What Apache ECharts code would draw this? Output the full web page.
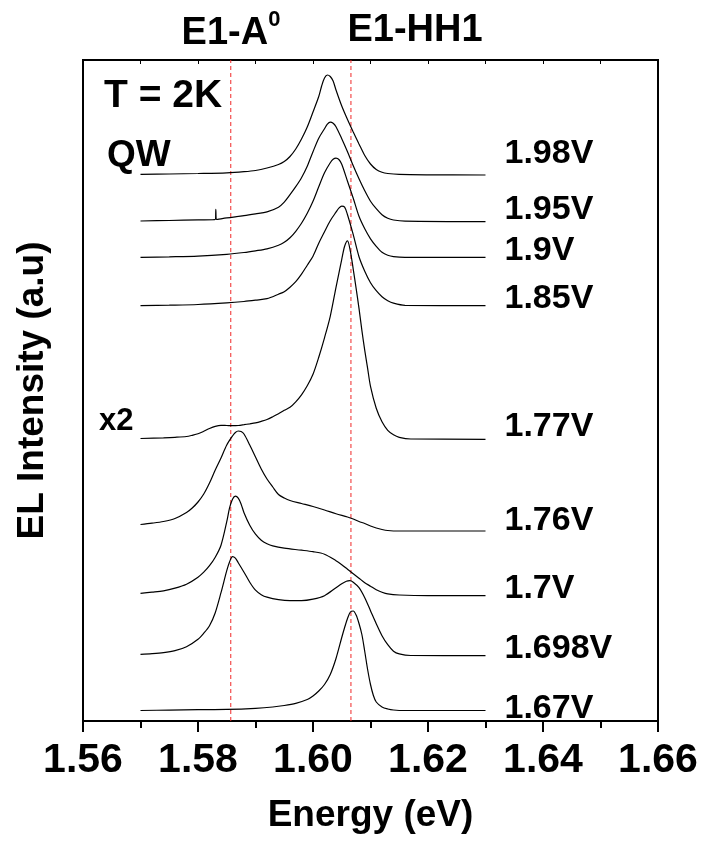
<!DOCTYPE html>
<html>
<head>
<meta charset="utf-8">
<script src="https://cdn.jsdelivr.net/npm/echarts@6/dist/echarts.min.js"></script>
<style>
html,body{margin:0;padding:0;background:#fff;}
#chart{width:701px;height:844px;}
</style>
</head>
<body>
<div id="chart"></div>
<script>
// EL spectra at 2 K for several bias voltages (energy in eV, intensity in a.u.)
const voltages = ['1.98V', '1.95V', '1.9V', '1.85V', '1.77V', '1.76V', '1.7V', '1.698V', '1.67V'];

const e198 = [1.570,1.575,1.580,1.585,1.588,1.590,1.592,1.594,1.595,1.596,1.597,1.598,1.599,1.600,1.601,1.6015,1.602,1.6025,1.603,1.6035,1.604,1.605,1.606,1.607,1.608,1.609,1.610,1.611,1.612,1.613,1.615,1.620,1.630];
const i198 = [0.07,0.10,0.15,0.22,0.33,0.45,0.70,1.05,1.35,1.85,2.60,3.60,4.80,6.30,7.85,8.90,9.70,10.00,9.85,9.40,8.50,6.90,5.55,4.30,3.10,1.95,1.10,0.55,0.27,0.15,0.06,0.02,0.00];

const e195 = [1.570,1.575,1.580,1.5830,1.5831,1.5832,1.585,1.588,1.590,1.592,1.594,1.595,1.596,1.597,1.598,1.599,1.600,1.601,1.602,1.6025,1.603,1.6035,1.604,1.605,1.606,1.607,1.608,1.609,1.610,1.611,1.612,1.613,1.614,1.616,1.630];
const i195 = [0.07,0.12,0.18,0.22,1.24,0.22,0.38,0.60,0.78,0.98,1.45,1.95,2.70,3.50,4.40,5.55,7.00,8.35,9.30,9.75,9.95,9.85,9.50,8.30,7.00,5.60,4.30,3.10,2.05,1.30,0.70,0.35,0.17,0.05,0.00];

const e190 = [1.570,1.575,1.580,1.585,1.588,1.590,1.592,1.594,1.595,1.596,1.597,1.598,1.599,1.600,1.601,1.602,1.603,1.6035,1.604,1.6045,1.605,1.606,1.607,1.608,1.609,1.610,1.611,1.612,1.613,1.614,1.616,1.630];
const i190 = [0.00,0.05,0.12,0.30,0.48,0.65,0.85,1.20,1.50,1.95,2.60,3.40,4.40,5.60,7.05,8.45,9.45,9.80,9.92,9.78,9.30,7.60,5.90,4.10,2.85,1.85,1.10,0.50,0.20,0.07,0.00,0.00];

const e185 = [1.570,1.575,1.580,1.585,1.588,1.590,1.592,1.594,1.595,1.596,1.597,1.598,1.599,1.600,1.601,1.602,1.603,1.604,1.6045,1.605,1.6055,1.606,1.607,1.608,1.609,1.610,1.611,1.612,1.613,1.614,1.616,1.630];
const i185 = [0.00,0.05,0.12,0.28,0.42,0.55,0.70,1.15,1.40,1.85,2.40,3.15,4.05,4.95,6.25,7.40,8.50,9.35,9.75,9.95,9.85,9.10,7.10,4.90,3.45,2.30,1.50,0.90,0.50,0.25,0.03,0.00];

// 1.77V is shown multiplied by 2
const e177 = [1.570,1.574,1.576,1.578,1.579,1.580,1.581,1.582,1.583,1.584,1.585,1.586,1.587,1.588,1.589,1.590,1.591,1.592,1.593,1.594,1.595,1.596,1.597,1.598,1.599,1.600,1.601,1.602,1.603,1.604,1.6045,1.605,1.6055,1.606,1.6065,1.607,1.6075,1.608,1.6085,1.609,1.6095,1.610,1.611,1.612,1.613,1.614,1.615,1.617,1.630];
const i177 = [0.08,0.15,0.20,0.28,0.40,0.55,0.80,1.08,1.30,1.40,1.38,1.36,1.38,1.46,1.55,1.65,1.80,1.98,2.25,2.55,2.90,3.20,3.75,4.45,5.35,6.50,8.20,10.15,12.30,15.20,16.60,18.00,19.30,19.85,18.80,17.00,15.10,13.10,10.90,8.90,7.10,5.30,3.10,1.75,0.90,0.45,0.20,0.03,0.00];

const e176 = [1.570,1.572,1.574,1.576,1.578,1.579,1.580,1.581,1.582,1.583,1.584,1.585,1.586,1.5865,1.587,1.5875,1.588,1.589,1.590,1.591,1.592,1.593,1.594,1.595,1.596,1.598,1.600,1.602,1.604,1.606,1.607,1.608,1.609,1.610,1.611,1.612,1.613,1.615,1.630];
const i176 = [0.65,0.78,0.95,1.25,1.85,2.30,2.90,3.70,4.80,6.10,7.30,8.60,9.50,9.85,10.00,9.95,9.70,8.60,7.40,6.20,5.20,4.40,3.65,3.30,3.05,2.75,2.45,2.10,1.72,1.40,1.20,0.95,0.75,0.50,0.30,0.15,0.05,0.00,0.00];

const e170 = [1.570,1.572,1.574,1.576,1.578,1.580,1.581,1.582,1.583,1.584,1.585,1.5855,1.586,1.5865,1.587,1.5875,1.588,1.589,1.590,1.591,1.592,1.593,1.595,1.598,1.600,1.602,1.604,1.605,1.606,1.607,1.608,1.609,1.610,1.611,1.612,1.613,1.615,1.620,1.630];
const i170 = [0.24,0.35,0.48,0.75,1.15,1.85,2.35,3.00,3.85,5.05,7.40,8.80,9.65,9.95,9.75,9.15,8.30,7.05,6.15,5.55,5.20,4.98,4.75,4.55,4.40,4.15,3.50,3.10,2.65,2.20,1.75,1.30,0.95,0.60,0.35,0.18,0.07,0.00,0.00];

const e1698 = [1.570,1.572,1.574,1.576,1.578,1.580,1.581,1.582,1.583,1.584,1.585,1.5855,1.586,1.5865,1.587,1.588,1.589,1.590,1.591,1.592,1.594,1.596,1.598,1.600,1.602,1.604,1.605,1.6058,1.6064,1.607,1.608,1.609,1.610,1.611,1.612,1.613,1.614,1.615,1.617,1.630];
const i1698 = [0.14,0.20,0.30,0.50,0.90,1.65,2.25,3.00,4.30,6.30,8.50,9.40,9.90,9.75,9.30,8.35,7.35,6.55,6.10,5.85,5.60,5.50,5.50,5.65,6.00,6.80,7.20,7.45,7.50,7.35,6.80,5.80,4.50,3.20,2.00,1.10,0.45,0.18,0.02,0.00];

const e167 = [1.570,1.575,1.580,1.585,1.590,1.593,1.595,1.597,1.599,1.600,1.601,1.602,1.603,1.604,1.605,1.6055,1.606,1.6065,1.607,1.6075,1.608,1.6085,1.609,1.6095,1.610,1.6105,1.611,1.612,1.613,1.614,1.616,1.630];
const i167 = [0.00,0.04,0.08,0.11,0.22,0.35,0.50,0.72,1.10,1.45,1.95,2.60,3.60,5.20,7.30,8.30,9.20,9.85,9.95,9.55,8.70,7.60,5.90,4.10,2.60,1.50,0.85,0.35,0.15,0.05,0.00,0.00];

// vertical offset of each spectrum
const offsets = [54.60, 49.93, 46.37, 41.53, 28.17, 19.00, 12.53, 6.53, 1.05];

// transition energies: E1-A0 and E1-HH1
const refLines = [1.5857, 1.6066];

const xTicks = [1.56, 1.58, 1.60, 1.62, 1.64, 1.66];
const yRange = [0, 66.1];

const energies = [e198, e195, e190, e185, e177, e176, e170, e1698, e167];
const intensities = [i198, i195, i190, i185, i177, i176, i170, i1698, i167];

// vertical nudge of each voltage tag relative to its baseline (px)
const labelShift = [-21, -12, -7, -7, -13, -10, -7, -7, -2];

const FONT = 'Liberation Sans, Arial, Helvetica, sans-serif';

const spectraSeries = voltages.map((v, k) => ({
  name: v,
  type: 'line',
  data: energies[k].map((e, j) => [e, offsets[k] + intensities[k][j]]),
  showSymbol: false,
  symbol: 'none',
  smooth: 0.3,
  lineStyle: { color: '#000', width: 1.2 },
  itemStyle: { color: '#000' },
  endLabel: {
    show: true,
    formatter: '{a}',
    distance: 0,
    offset: [19, labelShift[k]],
    color: '#000',
    fontFamily: FONT,
    fontWeight: 'bold',
    fontSize: 34
  },
  z: 3
}));

// dashed vertical guides at the transition energies
const guideSeries = refLines.map((x, k) => ({
  name: 'guide' + k,
  type: 'line',
  data: [[x, yRange[0]], [x, yRange[1]]],
  showSymbol: false,
  symbol: 'none',
  silent: true,
  lineStyle: { color: '#f02828', type: [4, 3], width: 1 },
  itemStyle: { color: '#f02828' },
  z: 2
}));

const chart = echarts.init(document.getElementById('chart'), null, { renderer: 'canvas' });
chart.setOption({
  animation: false,
  backgroundColor: '#fff',
  grid: { left: 83, right: 43, top: 60, bottom: 123, show: true, borderColor: '#000', borderWidth: 2 },
  xAxis: [{
    type: 'value',
    min: xTicks[0],
    max: xTicks[xTicks.length - 1],
    interval: 0.02,
    position: 'bottom',
    axisLine: { show: true, onZero: false, lineStyle: { color: '#000', width: 2 } },
    axisTick: { show: true, inside: false, length: 11, lineStyle: { color: '#000', width: 2 } },
    minorTick: { show: true, splitNumber: 2, length: 7, lineStyle: { color: '#000', width: 2 } },
    splitLine: { show: false },
    axisLabel: {
      show: true, margin: 19, color: '#000', fontFamily: FONT, fontWeight: 'bold', fontSize: 41,
      formatter: v => v.toFixed(2)
    },
    name: 'Energy (eV)',
    nameLocation: 'middle',
    nameGap: 76,
    nameTextStyle: { color: '#000', fontFamily: FONT, fontWeight: 'bold', fontSize: 37 }
  }, {
    type: 'value',
    min: xTicks[0],
    max: xTicks[xTicks.length - 1],
    interval: 0.01,
    position: 'top',
    axisLine: { show: true, onZero: false, lineStyle: { color: '#000', width: 2 } },
    axisTick: { show: true, inside: true, length: 4, lineStyle: { color: '#000', width: 1 } },
    axisLabel: { show: false },
    splitLine: { show: false }
  }],
  yAxis: {
    type: 'value',
    min: yRange[0],
    max: yRange[1],
    axisLine: { show: true, onZero: false, lineStyle: { color: '#000', width: 2 } },
    axisTick: { show: false },
    axisLabel: { show: false },
    splitLine: { show: false },
    name: 'EL Intensity (a.u)',
    nameLocation: 'middle',
    nameGap: 32,
    nameTextStyle: { color: '#000', fontFamily: FONT, fontWeight: 'bold', fontSize: 37 }
  },
  series: guideSeries.concat(spectraSeries),
  graphic: [
    {
      type: 'text', x: 231, y: 31,
      style: {
        text: '{a|E1-A}{s|0}',
        align: 'center', verticalAlign: 'middle',
        rich: {
          a: { fontFamily: FONT, fontWeight: 'bold', fontSize: 38, fill: '#000', lineHeight: 44, verticalAlign: 'bottom' },
          s: { fontFamily: FONT, fontWeight: 'bold', fontSize: 22, fill: '#000', lineHeight: 44, verticalAlign: 'top' }
        }
      }
    },
    {
      type: 'text', x: 415, y: 31,
      style: { text: 'E1-HH1', align: 'center', verticalAlign: 'middle', fontFamily: FONT, fontWeight: 'bold', fontSize: 38, fill: '#000' }
    },
    {
      type: 'text', x: 104, y: 96,
      style: { text: 'T = 2K', align: 'left', verticalAlign: 'middle', fontFamily: FONT, fontWeight: 'bold', fontSize: 39, fill: '#000' }
    },
    {
      type: 'text', x: 107, y: 156,
      style: { text: 'QW', align: 'left', verticalAlign: 'middle', fontFamily: FONT, fontWeight: 'bold', fontSize: 37, fill: '#000' }
    },
    {
      type: 'text', x: 99, y: 421,
      style: { text: 'x2', align: 'left', verticalAlign: 'middle', fontFamily: FONT, fontWeight: 'bold', fontSize: 31, fill: '#000' }
    }
  ]
});
</script>
</body>
</html>
